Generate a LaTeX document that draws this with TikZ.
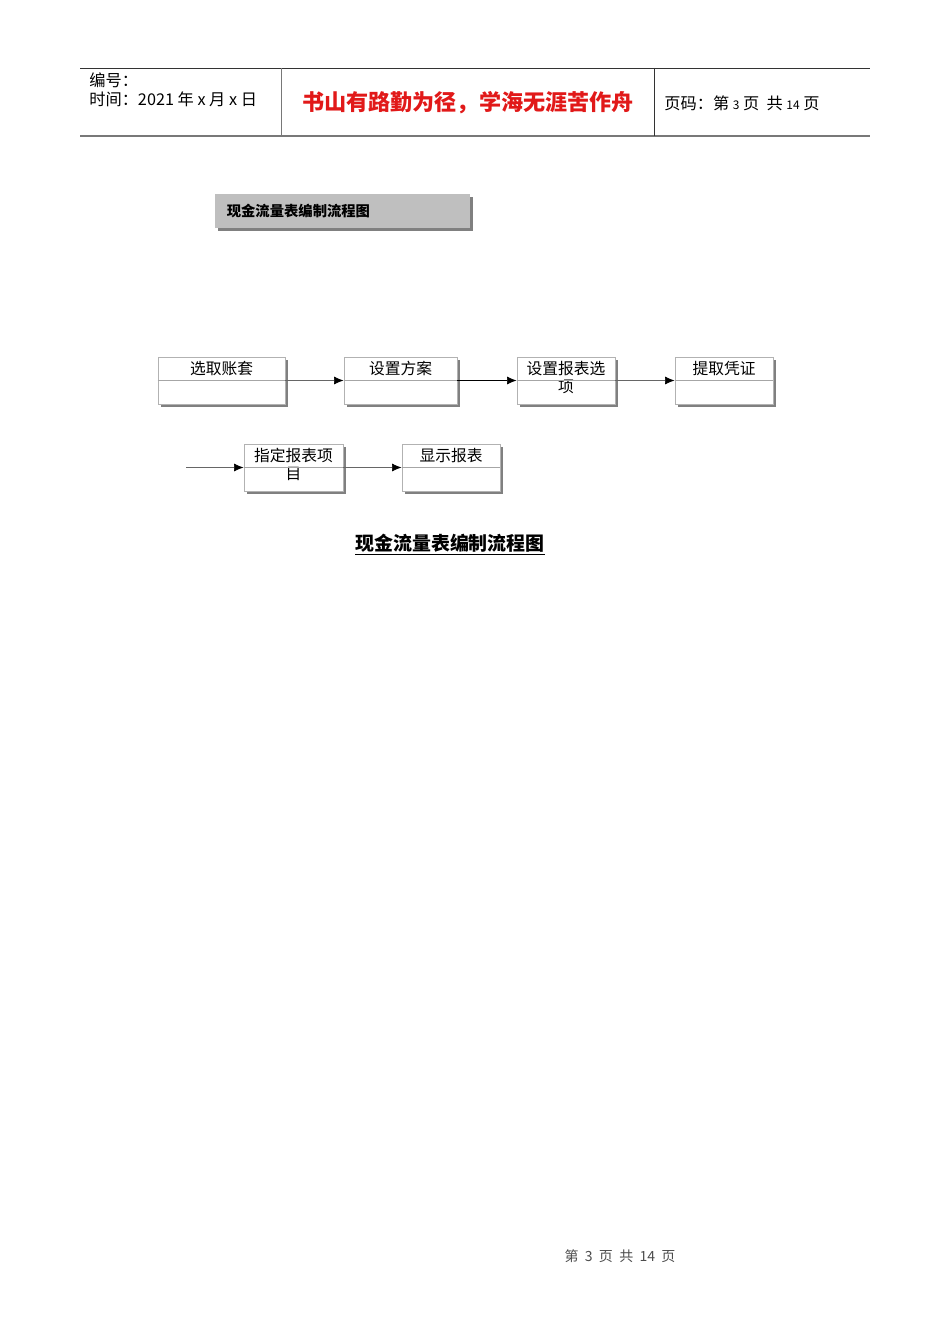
\documentclass[tikz,border=0pt]{standalone}
\usepackage{fontspec}
\setmainfont{Liberation Sans}
\newfontfamily\cjk{Noto Sans CJK SC}
\usetikzlibrary{arrows.meta,shadows,positioning}
\definecolor{mottored}{RGB}{225,25,25}
\definecolor{rulegray}{RGB}{120,120,120}
\definecolor{shadegray}{RGB}{128,128,128}

\tikzset{
	headtext/.style={anchor=west, inner sep=0pt, font=\cjk\fontsize{10.2}{11}\selectfont},
	flowbox/.style={draw=gray!60, fill=white, line width=0.4pt,
		minimum width=#1, minimum height=1.04cm, inner sep=0pt,
		general shadow={fill=shadegray, shadow xshift=0.066cm, shadow yshift=-0.066cm}},
	boxtext/.style={inner sep=0.5pt, yshift=-2.2pt, align=center, font=\cjk\fontsize{9.9}{11.3}\selectfont},
	midline/.style={draw=gray!70, line width=0.4pt},
	flowarrow/.style={draw=gray!80!black, line width=0.4pt, -{Latex[length=6pt,width=5pt,color=black]}}
}

\begin{document}
\begin{tikzpicture}[x=0.0221cm,y=-0.0221cm]
	\useasboundingbox (0,0) rectangle (950,1344);
	
	%header
	\draw[line width=0.5pt, black!80] (80,68) -- (870,68);
	\draw[line width=1.3pt, rulegray] (80,136) -- (870,136);
	\draw[line width=0.5pt, rulegray] (281,68) -- (281,136);
	\draw[line width=0.5pt, black!80] (654,68) -- (654,136);
	\node[headtext] (serial) at (89,80) {编号：};
	\node[headtext] (date) at (89,99) {时间：2021 年 x 月 x 日};
	\node[inner sep=0pt, text=mottored, font=\cjk\fontsize{13.9}{16}\selectfont\bfseries] (motto) at (468,103) {书山有路勤为径，学海无涯苦作舟};
	\node[headtext] (pageno) at (664,103) {页码：第 {\fontsize{7.5}{8}\selectfont 3} 页\ \ 共 {\fontsize{7.5}{8}\selectfont 14} 页};
	
	%title box
	\node[fill=gray!50, minimum width=5.64cm, minimum height=0.75cm, inner xsep=0.265cm,
		text width=5.11cm, align=left, font=\cjk\fontsize{9}{11}\selectfont\bfseries,
		general shadow={fill=shadegray, shadow xshift=0.066cm, shadow yshift=-0.066cm}]
		(title) at (342.5,211) {现金流量表编制流程图};
	
	%first row
	\node[flowbox=2.81cm, label={[boxtext,anchor=north]north:选取账套}] (account) at (221.5,380.5) {};
	\node[flowbox=2.50cm, label={[boxtext,anchor=north]north:设置方案}] (scheme) at (400.5,380.5) {};
	\node[flowbox=2.17cm, label={[boxtext,anchor=north]north:设置报表选\\项}] (options) at (566,380.5) {};
	\node[flowbox=2.17cm, label={[boxtext,anchor=north]north:提取凭证}] (voucher) at (724,380.5) {};
	
	%second row
	\coordinate (entry) at (186,467.5);
	\node[flowbox=2.19cm, label={[boxtext,anchor=north]north:指定报表项\\目}] (items) at (293.5,467.5) {};
	\node[flowbox=2.17cm, label={[boxtext,anchor=north]north:显示报表}] (report) at (451,467.5) {};
	
	\foreach \b in {account, scheme, options, voucher, items, report}{
		\draw[midline] (\b.west) -- (\b.east);
	}
	
	\draw[flowarrow] (account.east) -- (scheme.west);
	\draw[flowarrow, draw=black] (scheme.east) -- (options.west);
	\draw[flowarrow] (options.east) -- (voucher.west);
	\draw[flowarrow] (entry) -- (items.west);
	\draw[flowarrow] (items.east) -- (report.west);
	
	%caption and footer
	\node[inner sep=0pt, font=\cjk\fontsize{11.9}{14}\selectfont\bfseries] (caption) at (450,545) {\underline{现金流量表编制流程图}};
	\node[inner sep=0pt, text=black!70, font=\cjk\fontsize{8.8}{10}\selectfont] (footer) at (620,1256) {第\ \ 3\ \ 页\ \ 共\ \ 14\ \ 页};
\end{tikzpicture}
\end{document}
